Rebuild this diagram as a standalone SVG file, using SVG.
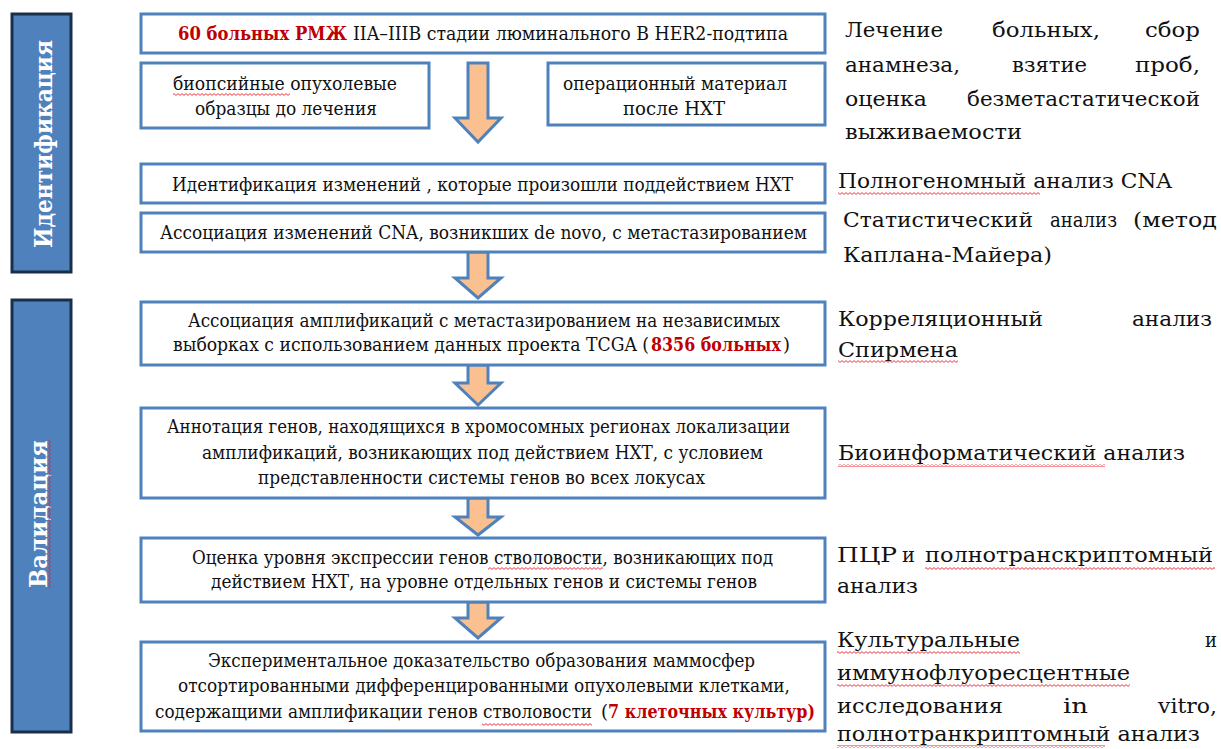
<svg xmlns="http://www.w3.org/2000/svg" width="1221" height="749" viewBox="0 0 1221 749">
<style>
.side{fill:#4F81BD;stroke:#1B2E4A;stroke-width:3}
.sidet{font-family:"DejaVu Serif","Liberation Serif",serif;font-weight:bold;font-size:24px;fill:#fff;text-anchor:middle}
.box{fill:#fff;stroke:#4F81BD;stroke-width:3}
.bt{font-family:"DejaVu Serif","Liberation Serif",serif;font-size:18px;fill:#111}
.red{fill:#C00000;font-weight:bold}
.arr{fill:#FAC090;stroke:#4F81BD;stroke-width:3;stroke-linejoin:miter}
.rt{font-family:"DejaVu Serif","Liberation Serif",serif;font-size:21px;fill:#111}
.sq{fill:url(#wv)}
</style>
<defs>
<pattern id="wv" x="0" y="0" width="4" height="3" patternUnits="userSpaceOnUse">
<path d="M0,2.4 L2,0.6 L4,2.4" fill="none" stroke="#E8202A" stroke-width="0.9"/>
</pattern>
<pattern id="wvv" x="0" y="0" width="3" height="4" patternUnits="userSpaceOnUse">
<path d="M0.6,0 L2.4,2 L0.6,4" fill="none" stroke="#E8202A" stroke-width="0.9"/>
</pattern>
</defs>
<rect width="1221" height="749" fill="#fff"/>

<g id="phase-identification">
<rect class="side" x="12" y="14" width="59" height="258"/>
<text class="sidet" transform="translate(52,144) rotate(-90)" textLength="208" lengthAdjust="spacingAndGlyphs">Идентификация</text>
</g>
<g id="phase-validation">
<rect class="side" x="12" y="300" width="59" height="432"/>
<text class="sidet" transform="translate(47,514) rotate(-90)" textLength="148" lengthAdjust="spacingAndGlyphs">Валидация</text>
<rect x="48" y="440" width="3" height="148" fill="url(#wvv)"/>
</g>

<g id="connectors">
<path class="arr" d="M468,63 H488 V118 H501 L478,142 L455,118 H468 Z"/>
<path class="arr" d="M468,252 H488 V278 H501 L478,298 L455,278 H468 Z"/>
<path class="arr" d="M468,365 H488 V383 H501 L478,405 L455,383 H468 Z"/>
<path class="arr" d="M468,498 H488 V517 H501 L478,535 L455,517 H468 Z"/>
<path class="arr" d="M468,602 H488 V618 H501 L478,638 L455,618 H468 Z"/>
</g>

<g id="n1">
<rect class="box" x="141" y="14" width="684" height="39"/>
<text class="bt red" x="178" y="40" textLength="169" lengthAdjust="spacingAndGlyphs">60 больных РМЖ</text>
<text class="bt" x="353" y="40" textLength="435" lengthAdjust="spacingAndGlyphs">IIA–IIIB стадии люминального В HER2-подтипа</text>
</g>
<g id="n2">
<rect class="box" x="141" y="63" width="288" height="65"/>
<text class="bt" x="173" y="90" textLength="224" lengthAdjust="spacingAndGlyphs">биопсийные опухолевые</text>
<rect class="sq" x="173" y="93" width="117" height="3"/>
<text class="bt" x="195" y="115" textLength="182" lengthAdjust="spacingAndGlyphs">образцы до лечения</text>
</g>
<g id="n3">
<rect class="box" x="548" y="63" width="277" height="62"/>
<text class="bt" x="563" y="90" textLength="224" lengthAdjust="spacingAndGlyphs">операционный материал</text>
<text class="bt" x="623" y="115" textLength="102" lengthAdjust="spacingAndGlyphs">после НХТ</text>
</g>
<g id="n4">
<rect class="box" x="141" y="164" width="684" height="39"/>
<text class="bt" x="172" y="191" textLength="621" lengthAdjust="spacingAndGlyphs">Идентификация изменений , которые произошли поддействием НХТ</text>
</g>
<g id="n5">
<rect class="box" x="141" y="213" width="684" height="39"/>
<text class="bt" x="160" y="239" textLength="647" lengthAdjust="spacingAndGlyphs">Ассоциация изменений CNA, возникших de novo, с метастазированием</text>
</g>
<g id="n6">
<rect class="box" x="141" y="302" width="684" height="63"/>
<text class="bt" x="188" y="327" textLength="592" lengthAdjust="spacingAndGlyphs">Ассоциация амплификаций с метастазированием на независимых</text>
<text class="bt" x="173" y="351" textLength="476" lengthAdjust="spacingAndGlyphs">выборках с использованием данных проекта TCGA (</text>
<text class="bt red" x="651" y="351" textLength="130" lengthAdjust="spacingAndGlyphs">8356 больных</text>
<text class="bt" x="783" y="351">)</text>
</g>
<g id="n7">
<rect class="box" x="141" y="408" width="684" height="90"/>
<text class="bt" x="167" y="433" textLength="623" lengthAdjust="spacingAndGlyphs">Аннотация генов, находящихся в хромосомных регионах локализации</text>
<text class="bt" x="202" y="459" textLength="561" lengthAdjust="spacingAndGlyphs">амплификаций, возникающих под действием НХТ, с условием</text>
<text class="bt" x="258" y="484" textLength="447" lengthAdjust="spacingAndGlyphs">представленности системы генов во всех локусах</text>
</g>
<g id="n8">
<rect class="box" x="141" y="538" width="684" height="64"/>
<text class="bt" x="192" y="564" textLength="581" lengthAdjust="spacingAndGlyphs">Оценка уровня экспрессии генов стволовости, возникающих под</text>
<rect class="sq" x="488" y="567" width="115" height="3"/>
<text class="bt" x="211" y="588" textLength="546" lengthAdjust="spacingAndGlyphs">действием НХТ, на уровне отдельных генов и системы генов</text>
</g>
<g id="n9">
<rect class="box" x="141" y="642" width="684" height="89"/>
<text class="bt" x="208" y="667" textLength="547" lengthAdjust="spacingAndGlyphs">Экспериментальное доказательство образования маммосфер</text>
<text class="bt" x="178" y="692" textLength="612" lengthAdjust="spacingAndGlyphs">отсортированными дифференцированными опухолевыми клетками,</text>
<text class="bt" x="155" y="718" textLength="437" lengthAdjust="spacingAndGlyphs">содержащими амплификации генов стволовости</text>
<rect class="sq" x="482" y="723" width="110" height="3"/>
<text class="bt" x="601" y="718">(</text>
<text class="bt red" x="608" y="718" textLength="207" lengthAdjust="spacingAndGlyphs">7 клеточных культур)</text>
</g>

<g id="notes">
<text class="rt" x="845" y="37" textLength="98" lengthAdjust="spacingAndGlyphs">Лечение</text>
<text class="rt" x="992" y="37" textLength="108" lengthAdjust="spacingAndGlyphs">больных,</text>
<text class="rt" x="1145" y="37" textLength="55" lengthAdjust="spacingAndGlyphs">сбор</text>
<text class="rt" x="845" y="72" textLength="115" lengthAdjust="spacingAndGlyphs">анамнеза,</text>
<text class="rt" x="1012" y="72" textLength="75" lengthAdjust="spacingAndGlyphs">взятие</text>
<text class="rt" x="1135" y="72" textLength="65" lengthAdjust="spacingAndGlyphs">проб,</text>
<text class="rt" x="845" y="106" textLength="82" lengthAdjust="spacingAndGlyphs">оценка</text>
<text class="rt" x="967" y="106" textLength="233" lengthAdjust="spacingAndGlyphs">безметастатической</text>
<text class="rt" x="845" y="139" textLength="177" lengthAdjust="spacingAndGlyphs">выживаемости</text>

<text class="rt" x="838" y="188" textLength="334" lengthAdjust="spacingAndGlyphs">Полногеномный анализ CNA</text>
<rect class="sq" x="838" y="192" width="202" height="3"/>
<text class="rt" x="843" y="227" textLength="190" lengthAdjust="spacingAndGlyphs">Статистический</text>
<text class="rt" x="1050" y="227" textLength="67" lengthAdjust="spacingAndGlyphs">анализ</text>
<text class="rt" x="1133" y="227" textLength="84" lengthAdjust="spacingAndGlyphs">(метод</text>
<text class="rt" x="843" y="262" textLength="209" lengthAdjust="spacingAndGlyphs">Каплана-Майера)</text>

<text class="rt" x="838" y="326" textLength="205" lengthAdjust="spacingAndGlyphs">Корреляционный</text>
<text class="rt" x="1132" y="326" textLength="80" lengthAdjust="spacingAndGlyphs">анализ</text>
<text class="rt" x="838" y="357" textLength="120" lengthAdjust="spacingAndGlyphs">Спирмена</text>
<rect class="sq" x="838" y="360" width="120" height="3"/>

<text class="rt" x="838" y="460" textLength="347" lengthAdjust="spacingAndGlyphs">Биоинформатический анализ</text>
<rect class="sq" x="838" y="464" width="267" height="3"/>

<text class="rt" x="837" y="562" textLength="60" lengthAdjust="spacingAndGlyphs">ПЦР</text>
<text class="rt" x="902" y="562" textLength="13" lengthAdjust="spacingAndGlyphs">и</text>
<text class="rt" x="925" y="562" textLength="288" lengthAdjust="spacingAndGlyphs">полнотранскриптомный</text>
<rect class="sq" x="925" y="567" width="290" height="3"/>
<text class="rt" x="837" y="593" textLength="81" lengthAdjust="spacingAndGlyphs">анализ</text>

<text class="rt" x="837" y="647" textLength="183" lengthAdjust="spacingAndGlyphs">Культуральные</text>
<rect class="sq" x="837" y="651" width="183" height="3"/>
<text class="rt" x="1205" y="647" textLength="12" lengthAdjust="spacingAndGlyphs">и</text>
<text class="rt" x="837" y="680" textLength="293" lengthAdjust="spacingAndGlyphs">иммунофлуоресцентные</text>
<rect class="sq" x="837" y="684" width="293" height="3"/>
<text class="rt" x="837" y="713" textLength="166" lengthAdjust="spacingAndGlyphs">исследования</text>
<text class="rt" x="1063" y="713" textLength="25" lengthAdjust="spacingAndGlyphs">in</text>
<text class="rt" x="1158" y="713" textLength="59" lengthAdjust="spacingAndGlyphs">vitro,</text>
<text class="rt" x="837" y="741" textLength="363" lengthAdjust="spacingAndGlyphs">полнотранкриптомный анализ</text>
<rect class="sq" x="837" y="745" width="268" height="3"/>
</g>
</svg>
